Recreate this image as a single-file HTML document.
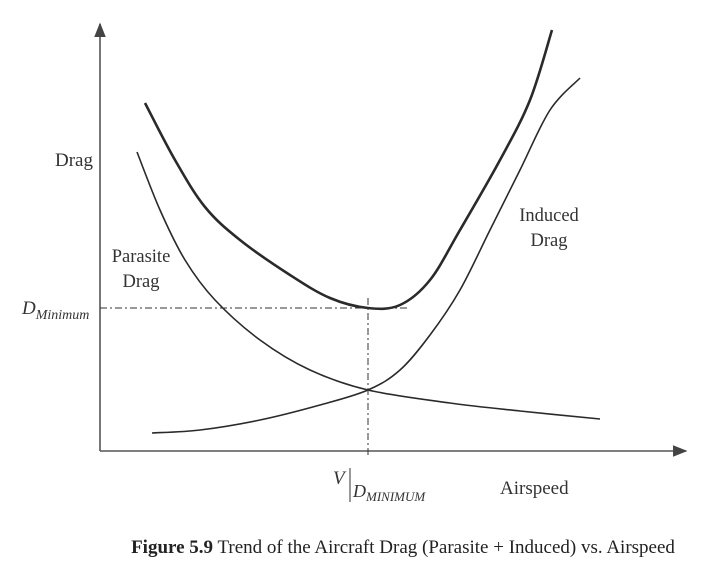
<!DOCTYPE html>
<html><head><meta charset="utf-8"><style>
body{margin:0;background:#fff;width:712px;height:563px;overflow:hidden}
svg{display:block;font-family:"Liberation Serif",serif}
</style></head><body>
<svg width="712" height="563">
<defs><marker id="ar" viewBox="0 0 10 10" refX="9" refY="5" markerWidth="9" markerHeight="9" orient="auto-start-reverse"><path d="M0,1 L10,5 L0,9 z" fill="#444"/></marker></defs>
<g id="axes">
<line x1="100" y1="451" x2="100" y2="24" stroke="#555" stroke-width="1.6" marker-end="url(#ar)"/>
<line x1="100" y1="451" x2="686" y2="451" stroke="#555" stroke-width="1.6" marker-end="url(#ar)"/>
</g>
<g id="curves"></g>
<line x1="100" y1="308" x2="408" y2="308" stroke="#333" stroke-width="1" stroke-dasharray="7,3,2,3"/>
<line x1="368" y1="298" x2="368" y2="458" stroke="#333" stroke-width="1" stroke-dasharray="7,3,2,3"/>
<text x="55" y="166" font-size="19" fill="#333">Drag</text>
<text font-size="18.5" fill="#333" text-anchor="middle"><tspan x="141" y="262">Parasite</tspan><tspan x="141" y="287">Drag</tspan></text>
<text font-size="18.5" fill="#333" text-anchor="middle"><tspan x="549" y="221">Induced</tspan><tspan x="549" y="246">Drag</tspan></text>
<text x="22" y="314" font-size="19" font-style="italic" fill="#333">D<tspan font-size="14" dy="5">Minimum</tspan></text>
<g>
<text x="333" y="484" font-size="19" font-style="italic" fill="#333">V</text>
<line x1="350" y1="468" x2="350" y2="502" stroke="#333" stroke-width="1"/>
<text x="353" y="497" font-size="18" font-style="italic" fill="#333">D<tspan font-size="13" dy="4">MINIMUM</tspan></text>
</g>
<text x="500" y="494" font-size="19" fill="#333">Airspeed</text>
<text x="403" y="553" font-size="19" fill="#222" text-anchor="middle"><tspan font-weight="bold">Figure 5.9</tspan>   Trend of the Aircraft Drag (Parasite + Induced) vs. Airspeed</text>
</svg>
<script>
const parasiteX=[7.4,12,17,23,32,42,53.6,70,84,100];
const parasiteY=[74.75,60.25,47.75,37.75,27.75,20.25,15.25,12,10,8];
const inducedX=[10.4,20,32,44,53.6,60,66,72,78,84,90,96];
const inducedY=[4.5,5.25,7.75,11.5,15.25,20.25,29,40.25,55.25,70.25,85.25,93.25];
const totalX=[9,15,21,28,38,46,53.6,60,66,72,80,86,90.4];
const totalY=[87,72.75,61,52.75,44,38.25,35.75,36.5,42.75,55.25,72.75,87.75,105.25];
function sx(v){return 100+v*5;}
function sy(v){return 451-v*4;}
function pathFor(xs,ys){
  const p=xs.map((x,i)=>[sx(x),sy(ys[i])]);
  let d='M'+p[0][0]+','+p[0][1];
  for(let i=0;i<p.length-1;i++){
    const p0=p[i-1]||p[i],p1=p[i],p2=p[i+1],p3=p[i+2]||p2;
    const c1=[p1[0]+(p2[0]-p0[0])/6,p1[1]+(p2[1]-p0[1])/6];
    const c2=[p2[0]-(p3[0]-p1[0])/6,p2[1]-(p3[1]-p1[1])/6];
    d+=` C${c1[0]},${c1[1]} ${c2[0]},${c2[1]} ${p2[0]},${p2[1]}`;
  }
  return d;
}
const g=document.getElementById('curves');
function add(name,xs,ys,w){
  const el=document.createElementNS('http://www.w3.org/2000/svg','path');
  el.setAttribute('d',pathFor(xs,ys));
  el.setAttribute('fill','none');
  el.setAttribute('stroke','#2a2a2a');
  el.setAttribute('stroke-width',w);
  
  
  g.appendChild(el);
}
add('parasite-drag-curve',parasiteX,parasiteY,1.6);
add('induced-drag-curve',inducedX,inducedY,1.6);
add('total-drag-curve',totalX,totalY,2.6);
</script>
</body></html>
